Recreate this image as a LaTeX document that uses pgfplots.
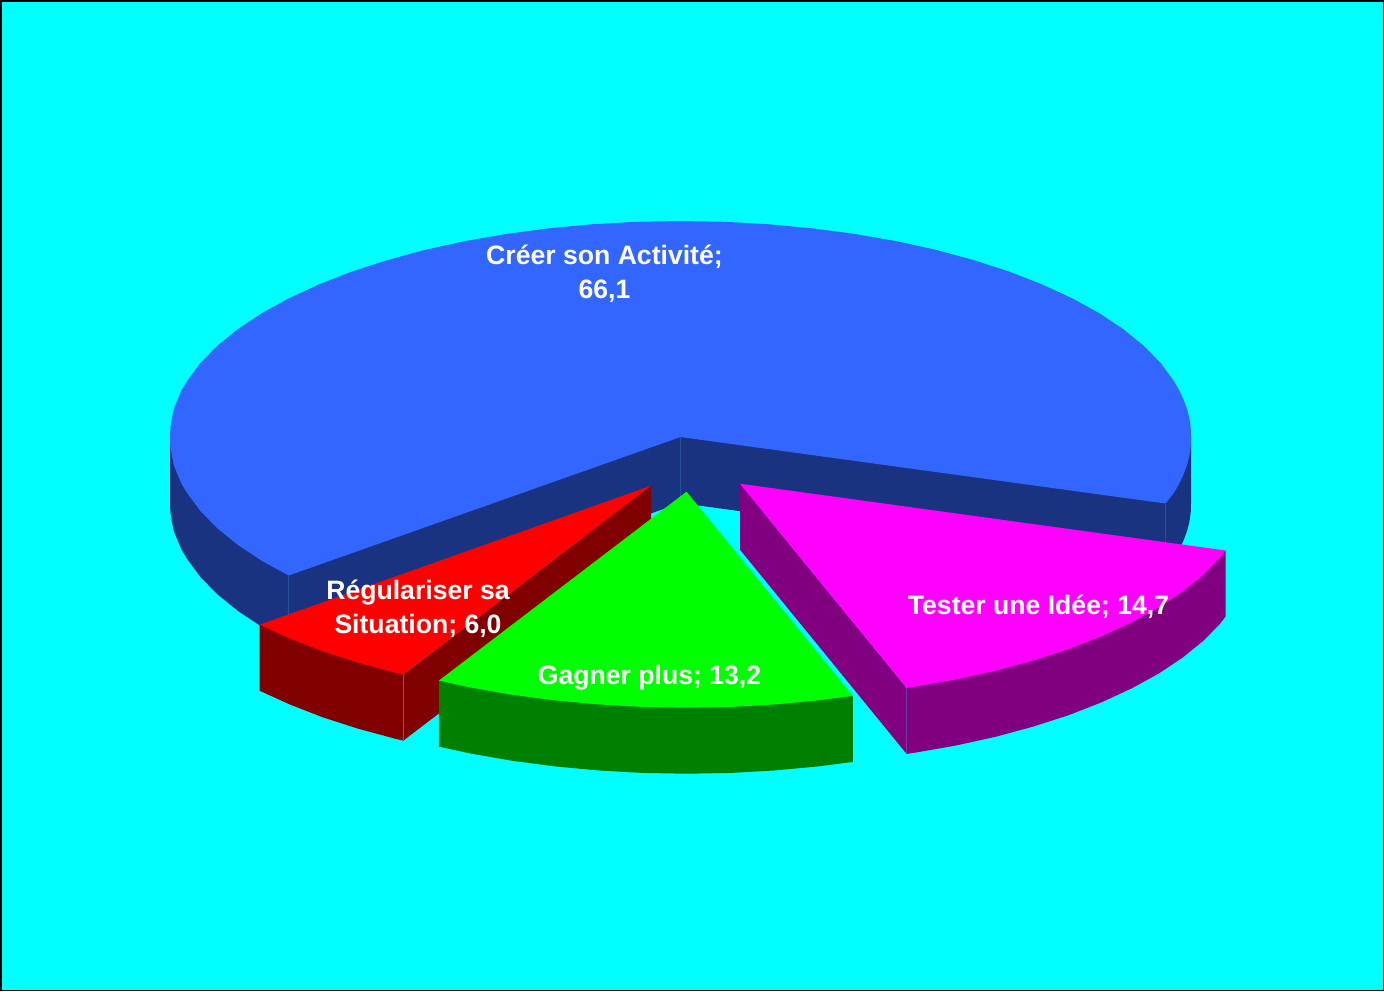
\documentclass[border=0pt]{standalone}
\usepackage{fontspec}
\setmainfont{Liberation Sans}
\usepackage{pgfplots}
\pgfplotsset{compat=1.18}
\definecolor{fond}{HTML}{00FFFF}
\definecolor{bleu}{HTML}{3366FF}
\definecolor{bleusombre}{HTML}{1A3380}
\definecolor{bleuarete}{HTML}{24528F}
\definecolor{rouge}{HTML}{FF0000}
\definecolor{rougesombre}{HTML}{800000}
\definecolor{vert}{HTML}{00FF00}
\definecolor{vertsombre}{HTML}{008000}
\definecolor{magenta2}{HTML}{FF00FF}
\definecolor{magentasombre}{HTML}{800080}
\definecolor{magentaarete}{HTML}{6A40A0}
\tikzset{
    face/.style={fill=#1, draw=none, line width=0pt},
    etiquette/.style={text=white, align=center, font=\fontsize{26.7}{34}\selectfont\bfseries, inner sep=0pt}
}
\begin{document}
\begin{tikzpicture}
\begin{axis}[
    width=1384bp, height=991bp, scale only axis,
    xmin=0, xmax=1384, ymin=0, ymax=991, y dir=reverse,
    hide axis, clip=true
]
% cadre et fond
\addplot[face=black] coordinates {(0,0) (1384,0) (1384,991) (0,991)};
\addplot[face=fond] coordinates {(2,2) (1382.5,2) (1382.5,989.5) (2,989.5)};

% Creer son Activite 66,1 : cotes
\addplot[face=bleusombre] coordinates {(170,437) (170,503) (170.4,512.4) (171.9,521.8) (173.9,531.2) (177.6,540.5) (181.6,549.8) (187.1,558.9) (200.3,576.9) (217.4,594.3) (238,611) (261.9,626.9) (288.7,641.5) (680.5,503) (680.5,437)};
\addplot[face=bleusombre] coordinates {(680.5,437) (680.5,503) (1165.5,569.5) (1173.9,558.9) (1179.2,549.8) (1183.5,540.5) (1186.9,531.2) (1189.4,521.8) (1190.7,512.4) (1191,503) (1191,437)};
\addplot[color=bleuarete, line width=0.75pt] coordinates {(680.5,437) (680.5,503)};
\addplot[color=bleuarete, line width=0.75pt] coordinates {(1165.5,503.5) (1165.5,569.5)};
\addplot[color=bleuarete, line width=0.75pt] coordinates {(288.7,575.5) (288.7,641.5)};
% dessus
\addplot[face=bleu] coordinates {
(680.5,437) (1165.5,503.5) (1173.9,492.9) (1179.2,483.8) (1183.5,474.5) (1186.9,465.2) (1189.4,455.8) (1190.7,446.4) (1191,437)
(1190.7,427.6) (1189.4,418.2) (1186.9,408.8) (1183.5,399.5) (1179.2,390.2) (1173.9,381.1) (1160.7,363.1) (1143.6,345.7) (1123,329)
(1099.1,313.1) (1071.9,298.2) (1041.8,284.3) (1009,271.5) (973.6,260.1) (936,249.9)
(896.5,241.2) (855.3,234) (812.8,228.4) (769.2,224.3) (725,221.8) (680.5,221)
(636,221.8) (591.8,224.3) (548.2,228.4) (505.7,234) (464.5,241.2) (425,249.9)
(387.4,260.1) (352,271.5) (319.2,284.3) (289.1,298.2) (261.9,313.1) (238,329)
(217.4,345.7) (200.3,363.1) (187.1,381.1) (181.6,390.2) (177.6,399.5) (173.9,408.8) (171.9,418.2) (170.4,427.6) (170,437)
(170.4,446.4) (171.9,455.8) (173.9,465.2) (177.6,474.5) (181.6,483.8) (187.1,492.9) (200.3,510.9) (217.4,528.3) (238,545)
(261.9,560.9) (288.7,575.5)};

% Regulariser sa Situation 6,0
\addplot[face=rougesombre] coordinates {(259.6,624.7) (259.6,690.7) (289.7,704.4) (322.5,717.2) (357.9,728.6) (395.5,738.8) (403.3,740.6) (403.3,674.6)};
\addplot[face=rougesombre] coordinates {(651,485.7) (403.3,674.6) (403.3,740.6) (651,551.7)};
\addplot[color=gray!70!rougesombre, line width=0.6pt] coordinates {(403.3,674.6) (403.3,740.6)};
\addplot[face=rouge] coordinates {(651,485.7) (403.3,674.6) (395.5,672.8) (357.9,662.6) (322.5,651.2) (289.7,638.4) (259.6,624.7)};

% Gagner plus 13,2
\addplot[face=vertsombre] coordinates {(852.9,695.9) (852.9,761.9) (818.8,766.3) (775.2,770.4) (731,772.9) (686.5,773.7) (642,772.9) (597.8,770.4) (554.2,766.3) (511.7,760.7) (470.5,753.5) (438.8,746.6) (438.8,680.6)};
\addplot[face=vert] coordinates {(686.5,491.7) (852.9,695.9) (818.8,700.3) (775.2,704.4) (731,706.9) (686.5,707.7) (642,706.9) (597.8,704.4) (554.2,700.3) (511.7,694.7) (470.5,687.5) (438.8,680.6)};

% Tester une Idee 14,7
\addplot[face=magentasombre] coordinates {(740,483.7) (906.6,687.9) (906.6,753.9) (740,549.7)};
\addplot[face=magentasombre] coordinates {(1225.5,550.5) (1225.5,616.5) (1220.2,623.6) (1203.1,641) (1182.5,657.7) (1158.6,673.6) (1131.4,688.5) (1101.3,702.4) (1068.5,715.2) (1033.1,726.6) (995.5,736.8) (956,745.5) (914.8,752.7) (906.6,753.9) (906.6,687.9)};
\addplot[color=magentaarete, line width=0.75pt] coordinates {(906.6,687.9) (906.6,753.9)};
\addplot[face=magenta2] coordinates {(740,483.7) (1225.5,550.5) (1220.2,557.6) (1203.1,575) (1182.5,591.7) (1158.6,607.6) (1131.4,622.5) (1101.3,636.4) (1068.5,649.2) (1033.1,660.6) (995.5,670.8) (956,679.5) (914.8,686.7) (906.6,687.9)};

% etiquettes
\node[etiquette] at (axis cs:604.5,274) {Créer son Activité;\\66,1};
\node[etiquette] at (axis cs:418,609) {Régulariser sa\\Situation; 6,0};
\node[etiquette] at (axis cs:649.5,678) {Gagner plus; 13,2};
\node[etiquette] at (axis cs:1038.5,607) {Tester une Idée; 14,7};
\end{axis}
\end{tikzpicture}
\end{document}
